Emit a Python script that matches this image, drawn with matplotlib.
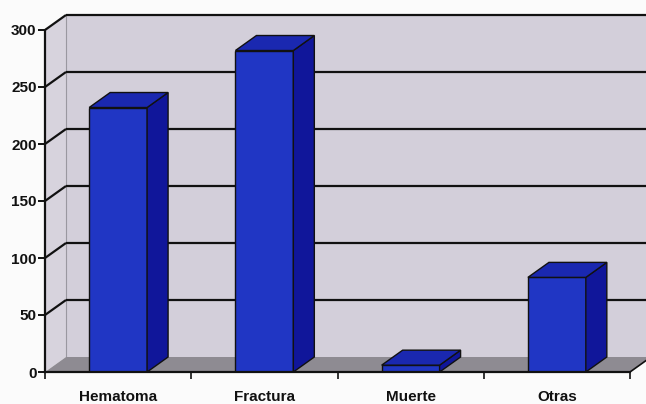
import matplotlib
matplotlib.use("Agg")
import matplotlib.pyplot as plt
from matplotlib.patches import Polygon

categories = ["Hematoma", "Fractura", "Muerte", "Otras"]
values = [232, 282, 6, 83]
yticks = [0, 50, 100, 150, 200, 250, 300]

W, H = 646, 404
fig = plt.figure(figsize=(W / 100, H / 100), dpi=100)
fig.patch.set_facecolor("#fbfbfb")

# axes: front plane starts at x=45px, baseline at y=372px
x0, base = 45, 372
px_per_cat = 146.25
px_per_unit = 57 / 50
ax = fig.add_axes([x0 / W, (H - base) / H, (W - x0) / W, base / H])
ax.set_xlim(0, (W - x0) / px_per_cat)
ax.set_ylim(0, base / px_per_unit)
ax.set_facecolor("none")

# depth offset of the 3-D box
DX = 21 / px_per_cat
DY = 15 / px_per_unit
n = len(categories)
ymax = yticks[-1]
xend = ax.get_xlim()[1] + 0.1

wall = "#d3cfda"
floor = "#8e8b92"
edge = "#111111"

# back wall and side wall
ax.add_patch(Polygon([(DX, DY), (xend, DY), (xend, ymax + DY), (DX, ymax + DY)],
                     closed=True, facecolor=wall, edgecolor="none", zorder=1))
ax.add_patch(Polygon([(0, 0), (DX, DY), (DX, ymax + DY), (0, ymax)],
                     closed=True, facecolor="#d7d3dd", edgecolor="none", zorder=1))
ax.plot([DX, DX], [DY, ymax + DY], color="#9a98a0", lw=0.8, zorder=2)

# floor
ax.add_patch(Polygon([(0, 0), (n, 0), (n + DX, DY), (DX, DY)],
                     closed=True, facecolor=floor, edgecolor="none", zorder=2))
ax.plot([n, n + DX], [0, DY], color=edge, lw=1.2, zorder=3)

# gridlines on side and back walls
for v in yticks[1:]:
    ax.plot([0, DX], [v, v + DY], color=edge, lw=1.6, zorder=3,
            solid_capstyle="butt")
    ax.plot([DX, xend], [v + DY, v + DY], color=edge, lw=1.6, zorder=3,
            solid_capstyle="butt")

# bars as 3-D columns
front_c = "#2036c4"
side_c = "#10169a"
top_c = "#1a28b0"
hw = 0.198
for i, v in enumerate(values):
    c = i + 0.5
    l, r = c - hw, c + hw
    ax.add_patch(Polygon([(l, 0), (r, 0), (r, v), (l, v)], closed=True,
                         facecolor=front_c, edgecolor=edge, lw=1.0, zorder=5))
    ax.add_patch(Polygon([(r, 0), (r + DX, DY), (r + DX, v + DY), (r, v)], closed=True,
                         facecolor=side_c, edgecolor=edge, lw=1.0, zorder=5))
    ax.add_patch(Polygon([(l, v), (r, v), (r + DX, v + DY), (l + DX, v + DY)], closed=True,
                         facecolor=top_c, edgecolor=edge, lw=1.0, zorder=5))

# axes lines
for s in ["top", "right"]:
    ax.spines[s].set_visible(False)
ax.spines["left"].set_bounds(0, ymax)
ax.spines["bottom"].set_bounds(0, n)
for s in ["left", "bottom"]:
    ax.spines[s].set_linewidth(1.6)
    ax.spines[s].set_color(edge)
    ax.spines[s].set_zorder(6)

font = dict(family="Liberation Sans", weight="bold", size=11)
ax.set_yticks(yticks)
ax.set_yticklabels([str(t) for t in yticks], **font)
ax.tick_params(axis="y", direction="out", length=5, width=1.4, pad=1, colors=edge)

ax.set_xticks(range(n + 1))
ax.set_xticklabels([])
ax.tick_params(axis="x", which="major", direction="out", length=5, width=1.2, colors=edge)
ax.set_xticks([i + 0.5 for i in range(n)], minor=True)
ax.set_xticklabels(categories, minor=True, **font)
ax.tick_params(axis="x", which="minor", length=0, pad=13, colors=edge)

fig.savefig("out.png", dpi=100)
